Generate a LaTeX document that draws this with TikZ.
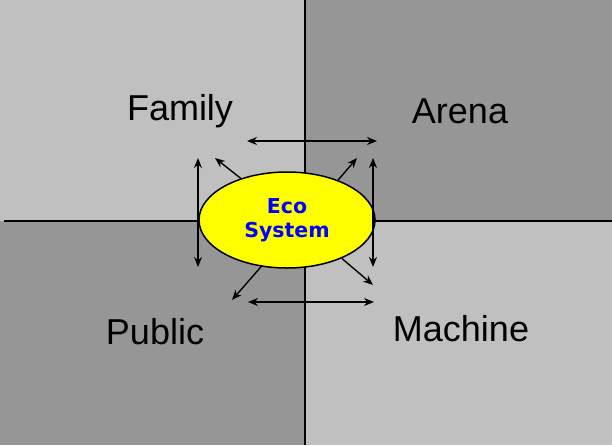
\documentclass[tikz,border=0pt]{standalone}
\usepackage{fontspec}
\setmainfont{Liberation Sans}
\newfontfamily\ecofont{DejaVu Sans}
\usepackage{tikz}
\usetikzlibrary{arrows.meta, positioning, shapes.geometric}

\definecolor{quadlight}{RGB}{192,192,192}
\definecolor{quaddark}{RGB}{150,150,150}
\definecolor{ecoyellow}{RGB}{255,255,0}
\definecolor{ecoblue}{RGB}{0,0,255}

\begin{document}
\begin{tikzpicture}[
    x=1pt, y=-1pt,
    quadlabel/.style={font=\fontsize{36}{40}\selectfont, inner sep=0pt},
    arrow/.style={-{Stealth[length=10pt, width=8pt]}, line width=1.4pt},
    twoway/.style={{Stealth[length=10pt, width=8pt]}-{Stealth[length=10pt, width=8pt]}, line width=1.4pt}
]
    \useasboundingbox (0,0) rectangle (612,445);
    % quadrants
    \fill[quadlight] (0,0) rectangle (305,221);
    \fill[quaddark] (305,0) rectangle (612,221);
    \fill[quaddark] (0,221) rectangle (305,445);
    \fill[quadlight] (305,221) rectangle (612,445);
    \draw[line width=2pt] (305,0) -- (305,445);
    \draw[line width=2pt] (4,221) -- (612,221);

    \node[quadlabel] (family) at (180,111) {Family};
    \node[quadlabel] (arena) at (460,111) {Arena};
    \node[quadlabel] (public) at (155,332) {Public};
    \node[quadlabel] (machine) at (461,329) {Machine};

    \node[ellipse, draw, line width=1.5pt, fill=ecoyellow, minimum width=176pt, minimum height=96pt,
          inner sep=0pt, align=center, text=ecoblue, font=\ecofont\bfseries\fontsize{20.5}{24}\selectfont]
          (eco) at (287,220) {Eco\\System};

    % free ends
    \coordinate (tl) at (215,158);
    \coordinate (tr) at (357,158);
    \coordinate (bl) at (232,300);
    \coordinate (br) at (373,285);
    \coordinate (topw) at (247,141);
    \coordinate (tope) at (377,141);
    \coordinate (botw) at (248,302);
    \coordinate (bote) at (374,302);
    \coordinate (leftn) at (198,158);
    \coordinate (lefts) at (198,267);
    \coordinate (rightn) at (373,158);
    \coordinate (rights) at (373,267);

    \draw[arrow] (eco.138) -- (tl);
    \draw[arrow] (eco.38) -- (tr);
    \draw[arrow] (eco.241) -- (bl);
    \draw[arrow] (eco.-35) -- (br);

    \draw[twoway] (topw) -- (tope);
    \draw[twoway] (botw) -- (bote);
    \draw[twoway] (leftn) -- (lefts);
    \draw[twoway] (rightn) -- (rights);
\end{tikzpicture}
\end{document}
